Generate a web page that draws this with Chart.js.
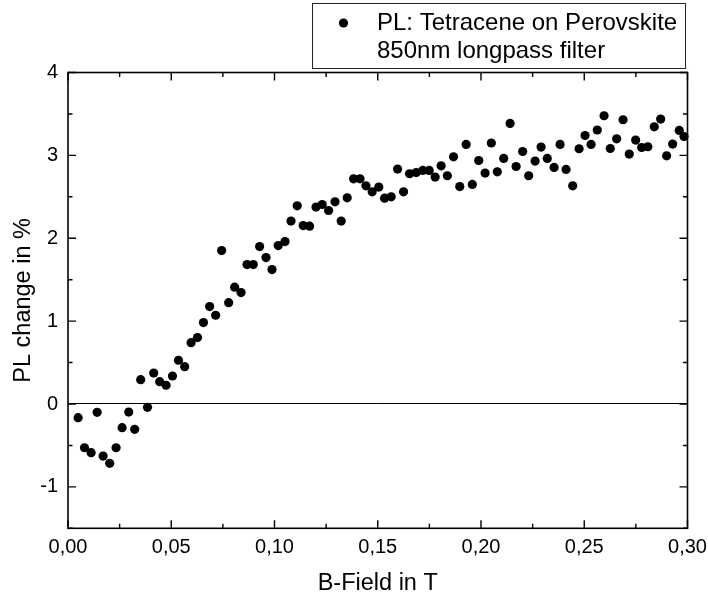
<!DOCTYPE html>
<html>
<head>
<meta charset="utf-8">
<script src="https://cdn.jsdelivr.net/npm/chart.js@4/dist/chart.umd.min.js"></script>
<style>
html,body{margin:0;padding:0;background:#fff;}
canvas{display:block;}
</style>
</head>
<body>
<canvas id="c" width="708" height="595"></canvas>
<script>
const bField = [0.0049,0.0080,0.0112,0.0141,0.0170,0.0202,0.0233,0.0262,0.0294,0.0323,
0.0352,0.0385,0.0415,0.0444,0.0475,0.0506,0.0535,0.0565,0.0596,0.0627,
0.0656,0.0686,0.0715,0.0744,0.0778,0.0807,0.0838,0.0867,0.0897,0.0928,
0.0959,0.0988,0.1018,0.1051,0.1080,0.1110,0.1139,0.1170,0.1201,0.1231,
0.1262,0.1293,0.1323,0.1352,0.1383,0.1414,0.1443,0.1473,0.1505,0.1533,
0.1565,0.1596,0.1625,0.1654,0.1686,0.1718,0.1749,0.1778,0.1807,0.1837,
0.1867,0.1897,0.1928,0.1958,0.1989,0.2020,0.2050,0.2079,0.2110,0.2141,
0.2170,0.2202,0.2231,0.2262,0.2291,0.2321,0.2354,0.2383,0.2412,0.2444,
0.2475,0.2504,0.2533,0.2563,0.2596,0.2626,0.2657,0.2688,0.2718,0.2749,
0.2778,0.2808,0.2839,0.2870,0.2899,0.2928,0.2960,0.2983];
const plChange = [-0.165,-0.528,-0.588,-0.100,-0.628,-0.716,-0.528,-0.286,-0.097,-0.306,
0.293,-0.040,0.374,0.269,0.226,0.338,0.528,0.450,0.740,0.801,
0.982,1.175,1.071,1.851,1.223,1.409,1.344,1.682,1.682,1.900,
1.767,1.622,1.912,1.960,2.207,2.391,2.153,2.146,2.376,2.407,
2.335,2.440,2.207,2.488,2.717,2.717,2.633,2.560,2.617,2.484,
2.500,2.835,2.560,2.778,2.793,2.818,2.818,2.738,2.874,2.754,
2.983,2.624,3.132,2.649,2.938,2.786,3.149,2.802,2.963,3.385,
2.866,3.047,2.754,2.931,3.100,2.963,2.854,3.132,2.830,2.633,
3.080,3.240,3.132,3.306,3.478,3.083,3.200,3.430,3.016,3.185,
3.095,3.104,3.345,3.438,2.995,3.136,3.301,3.228];
const xTicks = [0,0.05,0.10,0.15,0.20,0.25,0.30];
const xMinorTicks = [0.025,0.075,0.125,0.175,0.225,0.275];
const yTicks = [-1,0,1,2,3,4];
const yMinorTicks = [-1.5,-0.5,0.5,1.5,2.5,3.5];
const legendLines = ['PL: Tetracene on Perovskite','850nm longpass filter'];
const xTitle = 'B-Field in T';
const yTitle = 'PL change in %';

const FONT = 'Liberation Sans, Arial, Helvetica, sans-serif';

const framePlugin = {
  id: 'frame',
  afterDatasetsDraw(chart) {
    const {ctx, chartArea: a, scales: {x, y}} = chart;
    ctx.save();
    ctx.strokeStyle = '#000';
    ctx.lineWidth = 1.6;
    ctx.strokeRect(a.left, a.top, a.right - a.left, a.bottom - a.top);
    ctx.lineWidth = 1.4;
    ctx.beginPath();
    const xt = (vals, len) => vals.forEach(v => {
      const px = x.getPixelForValue(v);
      ctx.moveTo(px, a.bottom); ctx.lineTo(px, a.bottom - len);
      ctx.moveTo(px, a.top); ctx.lineTo(px, a.top + len);
    });
    const yt = (vals, len) => vals.forEach(v => {
      const py = y.getPixelForValue(v);
      ctx.moveTo(a.left, py); ctx.lineTo(a.left + len, py);
      ctx.moveTo(a.right, py); ctx.lineTo(a.right - len, py);
    });
    xt(xTicks, 8); xt(xMinorTicks, 4.5);
    yt(yTicks, 8); yt(yMinorTicks, 4.5);
    ctx.stroke();

    // legend
    ctx.lineWidth = 1;
    ctx.strokeStyle = '#222';
    ctx.strokeRect(312.5, 3.5, 373, 65);
    ctx.fillStyle = '#000';
    ctx.beginPath();
    ctx.arc(343.5, 23, 4.6, 0, Math.PI * 2);
    ctx.fill();
    ctx.font = '24px ' + FONT;
    ctx.textBaseline = 'alphabetic';
    ctx.textAlign = 'left';
    ctx.fillText(legendLines[0], 377, 29.5);
    ctx.fillText(legendLines[1], 377, 57.5);
    ctx.restore();
  }
};

new Chart(document.getElementById('c'), {
  type: 'scatter',
  data: {
    datasets: [{
      label: legendLines.join(' '),
      data: bField.map((v, i) => ({x: v, y: plChange[i]})),
      backgroundColor: '#000',
      borderColor: '#000',
      pointRadius: 4.6,
      pointHoverRadius: 4.6,
      borderWidth: 0,
      clip: false
    }]
  },
  options: {
    responsive: false,
    animation: false,
    devicePixelRatio: 1,
    layout: {padding: {top: 72.5, right: 20.5, left: 0, bottom: 0}},
    plugins: {legend: {display: false}, tooltip: {enabled: false}},
    scales: {
      x: {
        type: 'linear', min: 0, max: 0.3,
        afterBuildTicks: s => { s.ticks = xTicks.map(v => ({value: v})); },
        afterFit: s => { s.height = 66.7; s.paddingLeft = 0; s.paddingRight = 0; },
        ticks: {
          callback: v => v.toFixed(2).replace('.', ','),
          font: {family: FONT, size: 20}, color: '#000', padding: 7,
          maxRotation: 0, autoSkip: false
        },
        grid: {display: false, drawTicks: false},
        border: {display: false},
        title: {display: true, text: xTitle, color: '#000',
          font: {family: FONT, size: 23.5, lineHeight: 1}, padding: {top: 0, bottom: 0}}
      },
      y: {
        type: 'linear', min: -1.5, max: 4,
        afterBuildTicks: s => { s.ticks = yTicks.map(v => ({value: v})); },
        afterFit: s => { s.width = 68; s.paddingTop = 0; s.paddingBottom = 0; },
        ticks: {
          callback: v => String(v),
          font: {family: FONT, size: 20}, color: '#000', padding: 10, autoSkip: false
        },
        grid: {
          display: true, drawTicks: false, lineWidth: 1,
          color: c => (c.tick && c.tick.value === 0) ? '#000' : 'rgba(0,0,0,0)'
        },
        border: {display: false},
        title: {display: true, text: yTitle, color: '#000',
          font: {family: FONT, size: 23.5, lineHeight: 1}, padding: {top: 12, bottom: 0}}
      }
    }
  },
  plugins: [framePlugin]
});
</script>
</body>
</html>
